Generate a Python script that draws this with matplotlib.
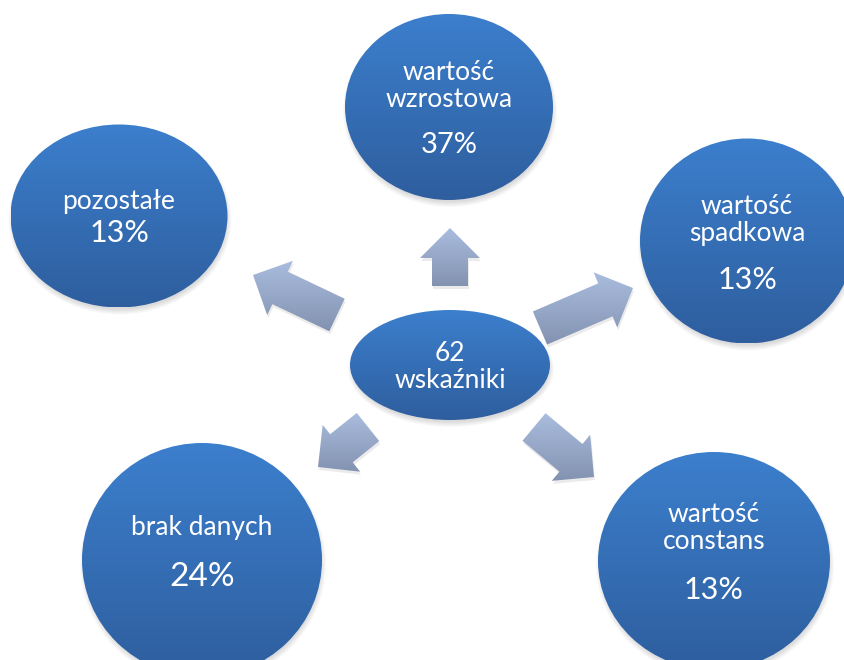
import matplotlib.pyplot as plt
import numpy as np
from matplotlib.patches import Ellipse, Polygon
from matplotlib.colors import LinearSegmentedColormap

plt.rcParams['font.family'] = ['Lato', 'DejaVu Sans']

# data
center_label = "62\nwskaźniki"
labels = ["wartość\nwzrostowa", "wartość\nspadkowa", "wartość\nconstans", "brak danych", "pozostałe"]
percents = ["37%", "13%", "13%", "24%", "13%"]

# layout (pixel space of the 844x660 canvas)
node_xy = [(449, 107), (747, 241), (714, 561), (202, 560), (119, 216)]
node_wh = [(208, 186), (214, 205), (232, 218), (240, 234), (217, 183)]
label_y = [86, 220, 528, 527, 201]
pct_y = [145, 280, 590, 577, 233]
pct_size = [21, 22, 22, 24, 22]
center_xy, center_wh = (450, 365), (200, 110)
# arrows: tail centre, tip
arrow_tail = [(450, 286), (540, 328), (534, 427), (368, 427), (337, 315)]
arrow_tip = [(450, 228), (633, 288), (594, 477), (318, 467), (253, 275)]

fig = plt.figure(figsize=(8.44, 6.60), dpi=100)
ax = fig.add_axes([0, 0, 1, 1])
ax.set_xlim(0, 844)
ax.set_ylim(660, 0)
ax.axis('off')

blue = LinearSegmentedColormap.from_list('b', ['#3c7fcd', '#2e5e9e'])
grey = LinearSegmentedColormap.from_list('g', ['#aabdde', '#8392b1'])
grad = np.linspace(0, 1, 256).reshape(-1, 1)


def fill_gradient(patch, cmap, z):
    ax.add_patch(patch)
    patch.set_zorder(z)
    patch.set_facecolor('none')
    patch.set_edgecolor('none')
    ext = patch.get_path().transformed(patch.get_patch_transform()).get_extents()
    im = ax.imshow(grad, cmap=cmap, aspect='auto', zorder=z,
                   extent=[ext.x0, ext.x1, ext.y1, ext.y0])
    im.set_clip_path(patch)


def shadow(xy, wh, z):
    for i in range(6):
        ax.add_patch(Ellipse((xy[0] + 1, xy[1] + 4), wh[0] + 6 - 2 * i, wh[1] + 6 - 2 * i,
                             facecolor='black', edgecolor='none', alpha=0.025, zorder=z))


def arrow_poly(tail, tip, sw=36, hw=60, hl=30):
    t, p = np.array(tail, float), np.array(tip, float)
    d = p - t
    L = np.hypot(*d)
    u = d / L
    n = np.array([-u[1], u[0]])
    b = p - u * hl
    pts = [t + n * sw / 2, b + n * sw / 2, b + n * hw / 2, p,
           b - n * hw / 2, b - n * sw / 2, t - n * sw / 2]
    return np.array(pts)


for tail, tip in zip(arrow_tail, arrow_tip):
    pts = arrow_poly(tail, tip)
    ax.add_patch(Polygon(pts + [1, 3], closed=True, facecolor='black',
                         edgecolor='none', alpha=0.08, zorder=1))
    fill_gradient(Polygon(pts, closed=True), grey, 2)

shadow(center_xy, center_wh, 3)
fill_gradient(Ellipse(center_xy, *center_wh), blue, 4)
ax.text(center_xy[0], center_xy[1] + 2, center_label, color='white', fontsize=19,
        ha='center', va='center', linespacing=1.1, zorder=5)

for xy, wh, lab, pct, ly, py, ps in zip(node_xy, node_wh, labels, percents,
                                         label_y, pct_y, pct_size):
    shadow(xy, wh, 3)
    fill_gradient(Ellipse(xy, *wh), blue, 4)
    ax.text(xy[0], ly, lab, color='white', fontsize=19, ha='center', va='center',
            linespacing=1.1, zorder=5)
    ax.text(xy[0], py, pct, color='white', fontsize=ps, ha='center', va='center',
            zorder=5)

fig.savefig('out.png', dpi=100)
